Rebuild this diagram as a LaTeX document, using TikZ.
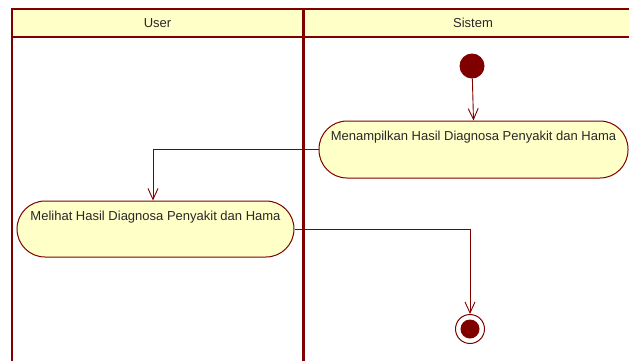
\documentclass[tikz,border=0pt]{standalone}
\usepackage{fontspec}
\setmainfont{Liberation Sans}
\usetikzlibrary{arrows.meta}
\definecolor{umlred}{RGB}{128,0,0}
\definecolor{umlfill}{RGB}{255,255,200}
\definecolor{umltext}{RGB}{40,40,40}
\tikzset{
  x=1pt, y=-1pt,
  lane/.style={draw=umlred, line width=2.5pt},
  header/.style={fill=umlfill, draw=umlred, line width=2pt},
  action/.style={draw=umlred, fill=umlfill, line width=1pt, rounded corners=28pt,
    rectangle, inner sep=0pt},
  acttext/.style={anchor=north, inner sep=0pt, font=\fontsize{13}{15}\selectfont, text=umltext},
  lanetitle/.style={font=\fontsize{13}{15}\selectfont, text=umltext},
  flow/.style={draw=umlred, line width=0.9pt, -{Straight Barb[length=11pt,width=10pt,line width=0.9pt]}},
}
\begin{document}
\begin{tikzpicture}
\useasboundingbox (0,0) rectangle (629,360);
\clip (0,0) rectangle (629,360);

% swimlane headers
\filldraw[header] (12,9) rectangle (650,37);
\node[lanetitle] (userlane) at (157.5,23) {User};
\node[lanetitle] (sistemlane) at (473,23) {Sistem};

% swimlane borders
\draw[lane] (12,8) -- (12,365);
\draw[lane, line width=3pt] (303,8) -- (303,365);
\draw[umlred, line width=2.5pt] (10.75,9) -- (650,9);

% initial node
\node[circle, fill=umlred, minimum size=25pt, inner sep=0pt] (start) at (472,66) {};

% actions
\node[action, minimum width=309pt, minimum height=57pt] (a1) at (473.5,149.5) {};
\node[acttext] (a1text) at ([yshift=-10pt]a1.north) {Menampilkan Hasil Diagnosa Penyakit dan Hama};

\node[action, minimum width=277pt, minimum height=56pt] (a2) at (155.5,229) {};
\node[acttext] (a2text) at ([yshift=-10pt]a2.north) {Melihat Hasil Diagnosa Penyakit dan Hama};

% final node
\node[circle, draw=umlred, line width=1pt, minimum size=29pt, inner sep=0pt] (final) at (470,329) {};
\node[circle, fill=umlred, minimum size=19pt, inner sep=0pt] (finaldot) at (final.center) {};

% control flows
\draw[flow] (start) -- (a1.north);
\draw[flow] (a1.west) -| ([xshift=-2.5pt]a2.north);
\draw[flow] (a2.east) -| (final.north);
\end{tikzpicture}
\end{document}
